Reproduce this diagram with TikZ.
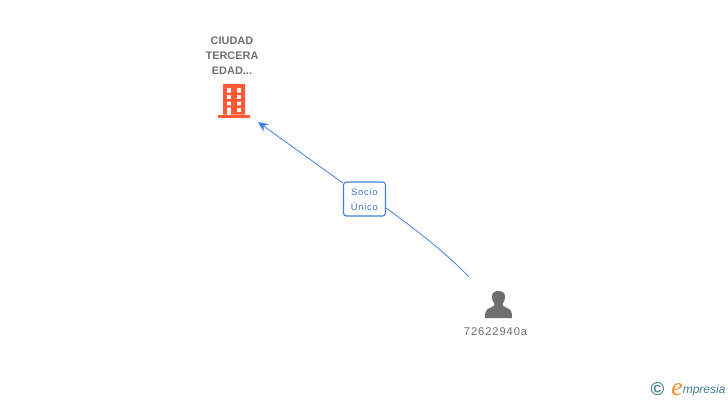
\documentclass[tikz,border=0pt]{standalone}
\usepackage{fontspec}
\setmainfont{Liberation Sans}
\newfontfamily\spaced[LetterSpace=8]{Liberation Sans}
\newfontfamily\logoserif{Liberation Serif}
\usetikzlibrary{arrows.meta}
\definecolor{linkblue}{HTML}{3F7FE0}
\definecolor{labelblue}{HTML}{3A74C4}
\definecolor{greytext}{HTML}{6F6F6F}
\definecolor{bldg}{HTML}{FF5A36}
\definecolor{persongrey}{HTML}{6E6E6E}
\definecolor{logoblue}{HTML}{3F7F93}
\definecolor{logoorange}{HTML}{F08A1D}
\tikzset{
  conn/.style={draw=linkblue,line width=0.6pt},
  titletext/.style={text=greytext,font=\fontsize{8.2}{11.2}\selectfont\bfseries,align=center,inner sep=0pt},
  idtext/.style={text=greytext,font=\spaced\fontsize{8.4}{11}\selectfont,inner sep=0pt},
  rolebox/.style={draw=linkblue,line width=0.8pt,rounded corners=2.2pt,fill=white,minimum width=31.5pt,minimum height=25.5pt,inner sep=0pt},
  roletextstyle/.style={inner sep=0pt,text=labelblue,font=\spaced\fontsize{7}{11.4}\selectfont,align=center}
}
\begin{document}
\begin{tikzpicture}[x=0.75pt,y=-0.75pt]
\useasboundingbox (0,0) rectangle (728,400);
% title
\node[titletext] (title) at (232,55.5) {CIUDAD\\TERCERA\\EDAD...};
% building
\fill[bldg,even odd rule] (223,84) rectangle (245,114.5)
  (226.8,88.2) rectangle (231,92.5) (236.8,88.2) rectangle (241,92.5)
  (226.8,95) rectangle (231,99) (236.8,95) rectangle (241,99)
  (226.8,101.7) rectangle (231,105.3) (236.8,101.7) rectangle (241,105.3)
  (227,107.7) rectangle (231,114.5) (236.8,108) rectangle (241,112);
\fill[bldg] (218,115) rectangle (250,117.5);
\coordinate (company) at (258,122);
\coordinate (personanchor) at (468.5,276.5);
% role
\node[rolebox] (role) at (364.5,199) {};
\node[roletextstyle] (roletext) at (364.3,199.6) {Socio\\Único};
% connectors
\draw[conn] (personanchor) .. controls (445,252) and (415,229) .. (role.east |- 0,208);
\draw[conn,-{Stealth[length=7.5pt,width=6.5pt]}] (role.west |- 0,183) -- (company);
% person
\fill[persongrey] (485,318) .. controls (485,311) and (486,309.5) .. (491,307.5)
  .. controls (494,306.5) and (494.5,305.5) .. (494.5,304)
  .. controls (492.5,302) and (492,299) .. (492,296.5)
  .. controls (492,292.5) and (495,291) .. (498.5,291)
  .. controls (502,291) and (505,292.5) .. (505,296.5)
  .. controls (505,299) and (504.5,302) .. (502.5,304)
  .. controls (502.5,305.5) and (503,306.5) .. (506,307.5)
  .. controls (511,309.5) and (512,311) .. (512,318) -- cycle;
\node[idtext] (idlabel) at (495.5,332) {72622940a};
% logo
\node[inner sep=0pt,text=logoblue,font=\fontsize{14}{14}\selectfont\bfseries] (copyr) at (657.5,389) {©};
\node[inner sep=0pt,text=logoorange,font=\logoserif\fontsize{19}{19}\selectfont\itshape] (logoe) at (677,389.5) {e};
\node[inner sep=0pt,anchor=west,text=logoblue,font=\fontsize{9}{10}\selectfont\itshape] (logotext) at (682.5,390) {mpresia};
\end{tikzpicture}
\end{document}
